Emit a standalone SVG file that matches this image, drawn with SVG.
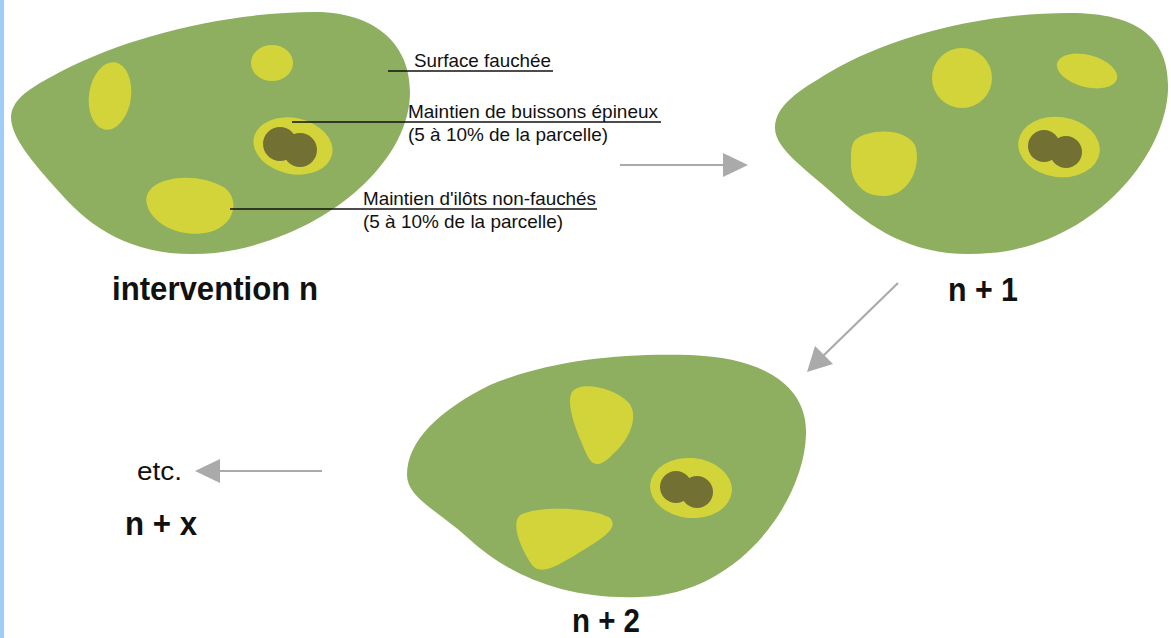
<svg xmlns="http://www.w3.org/2000/svg" width="1171" height="638" viewBox="0 0 1171 638">
<defs>
<style>
.field{fill:#8eae60}
.islet{fill:#d3d43a}
.bush{fill:#737033}
.lbl{font-family:"Liberation Sans",Arial,sans-serif;font-size:18.5px;fill:#111111}
.big{font-family:"Liberation Sans",Arial,sans-serif;font-size:33px;font-weight:bold;fill:#111111}
.lead{stroke:#111111;stroke-width:1.5;fill:none}
.arr{stroke:#aaaaaa;stroke-width:2.2;fill:none}
.head{fill:#aaaaaa}
</style>
</defs>
<rect x="0" y="0" width="1171" height="638" fill="#ffffff"/>
<rect x="0" y="0" width="4" height="638" fill="#9fcdf8"/>

<g id="parcelle-n">
<path class="field" d="M11,116 C 13,98 30,88 60,72 C 130,35 230,12 315,12 C 370,12 410,40 410,92 C 410,165 320,240 215,253 C 140,260 95,232 62,195 C 38,168 10,138 11,116 Z"/>
<ellipse class="islet" cx="110" cy="96" rx="21" ry="34" transform="rotate(8 110 96)"/>
<ellipse class="islet" cx="272" cy="63" rx="21" ry="18"/>
<ellipse class="islet" cx="293" cy="146" rx="40" ry="28" transform="rotate(12 293 146)"/>
<circle class="bush" cx="280" cy="144" r="17"/>
<circle class="bush" cx="300" cy="150" r="17"/>
<path class="islet" d="M150,190 C 160,176 200,172 225,188 C 240,200 235,225 210,232 C 185,238 160,228 150,212 C 145,203 145,196 150,190 Z"/>
</g>

<g id="parcelle-n1">
<path class="field" d="M775,128 C 775,105 800,90 830,72 C 890,37 980,13 1070,13 C 1140,13 1170,40 1168,90 C 1165,160 1090,245 990,253 C 920,260 875,232 838,198 C 810,172 775,150 775,128 Z"/>
<ellipse class="islet" cx="962" cy="78" rx="30" ry="30"/>
<ellipse class="islet" cx="1087" cy="71" rx="31" ry="16" transform="rotate(15 1087 71)"/>
<path class="islet" d="M855,140 C 870,128 905,128 915,145 C 922,165 910,195 885,196 C 862,197 850,180 851,162 C 851,152 851,145 855,140 Z"/>
<ellipse class="islet" cx="1059" cy="147" rx="41" ry="30" transform="rotate(8 1059 147)"/>
<circle class="bush" cx="1044" cy="146" r="16"/>
<circle class="bush" cx="1066" cy="152" r="16"/>
</g>

<g id="parcelle-n2">
<path class="field" d="M407,475 C 407,440 440,410 490,385 C 550,360 620,353 690,355 C 770,358 808,390 806,435 C 804,500 740,595 640,597 C 560,600 505,572 468,538 C 440,512 407,498 407,475 Z"/>
<path class="islet" d="M572,392 C 580,380 615,388 628,402 C 640,415 630,440 612,455 C 600,468 592,466 587,455 C 578,435 565,405 572,392 Z"/>
<path class="islet" d="M520,515 C 540,505 595,508 610,518 C 620,528 600,540 580,552 C 555,568 540,575 532,565 C 522,550 510,525 520,515 Z"/>
<ellipse class="islet" cx="691" cy="488" rx="41" ry="30" transform="rotate(5 691 488)"/>
<circle class="bush" cx="676" cy="487" r="16"/>
<circle class="bush" cx="697" cy="492" r="16"/>
</g>

<g id="legende">
<line class="lead" x1="388" y1="71" x2="553" y2="71"/>
<text class="lbl" x="414" y="67" textLength="137" lengthAdjust="spacingAndGlyphs">Surface fauchée</text>
<line class="lead" x1="292" y1="122" x2="661" y2="122"/>
<text class="lbl" x="408" y="118" textLength="250" lengthAdjust="spacingAndGlyphs">Maintien de buissons épineux</text>
<text class="lbl" x="408" y="141" textLength="200" lengthAdjust="spacingAndGlyphs">(5 à 10% de la parcelle)</text>
<line class="lead" x1="230" y1="209" x2="597" y2="209"/>
<text class="lbl" x="363" y="205" textLength="233" lengthAdjust="spacingAndGlyphs">Maintien d'ilôts non-fauchés</text>
<text class="lbl" x="363" y="228" textLength="200" lengthAdjust="spacingAndGlyphs">(5 à 10% de la parcelle)</text>
</g>

<g id="titres">
<text class="big" x="112" y="300" textLength="206" lengthAdjust="spacingAndGlyphs">intervention n</text>
<text class="big" x="948" y="301" textLength="70" lengthAdjust="spacingAndGlyphs">n + 1</text>
<text class="big" x="572" y="632" textLength="68" lengthAdjust="spacingAndGlyphs">n + 2</text>
<text class="big" x="125" y="535" textLength="72" lengthAdjust="spacingAndGlyphs">n + x</text>
<text class="lbl" style="font-size:26px" x="137" y="480" textLength="45" lengthAdjust="spacingAndGlyphs">etc.</text>
</g>

<g id="connecteurs">
<line class="arr" x1="620" y1="165" x2="724" y2="165"/>
<polygon class="head" points="723,153 748,165 723,177"/>
<line class="arr" x1="898" y1="283" x2="823" y2="356"/>
<polygon class="head" points="807,372 815,346 833,364"/>
<line class="arr" x1="322" y1="471" x2="219" y2="471"/>
<polygon class="head" points="195,471 220,459 220,483"/>
</g>
</svg>
